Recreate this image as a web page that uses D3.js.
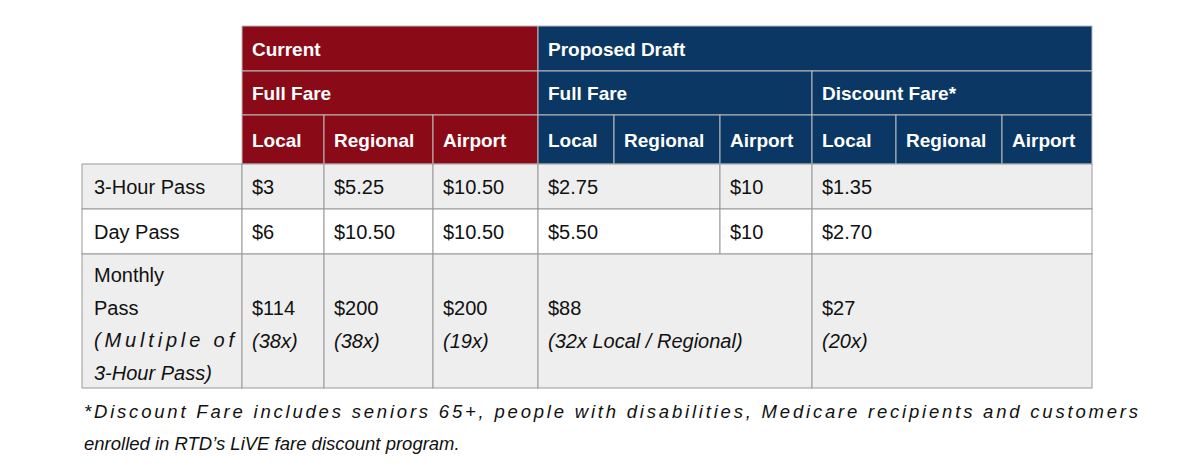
<!DOCTYPE html>
<meta charset="utf-8">
<style>
  body{margin:0;background:#fff;}
  text{font-family:"Liberation Sans",Arial,sans-serif;}
  .hd{fill:#fff;font-weight:bold;font-size:19px;}
  .cell{fill:#111;font-size:20px;}
  .it{font-style:italic;}
</style>
<body>
<script src="https://cdn.jsdelivr.net/npm/d3@7"></script>
<script>
  // header levels: [label, first column, span, group]
  var groups=[['Current',0,3,'cur'],['Proposed Draft',3,6,'prop']];
  var fareTypes=[['Full Fare',0,3,'cur'],['Full Fare',3,3,'prop'],['Discount Fare*',6,3,'prop']];
  var modes=['Local','Regional','Airport','Local','Regional','Airport','Local','Regional','Airport'];
  var rowLabels=[['3-Hour Pass'],['Day Pass'],['Monthly','Pass','(Multiple of','3-Hour Pass)']];
  // each row: [value lines, first column, span]
  var threeHour=[[['$3'],0,1],[['$5.25'],1,1],[['$10.50'],2,1],[['$2.75'],3,2],[['$10'],5,1],[['$1.35'],6,3]];
  var dayPass=[[['$6'],0,1],[['$10.50'],1,1],[['$10.50'],2,1],[['$5.50'],3,2],[['$10'],5,1],[['$2.70'],6,3]];
  var monthly=[[['$114','(38x)'],0,1],[['$200','(38x)'],1,1],[['$200','(19x)'],2,1],[['$88','(32x Local / Regional)'],3,3],[['$27','(20x)'],6,3]];
  var rows=[threeHour,dayPass,monthly];
  var footnote=['*Discount Fare includes seniors 65+, people with disabilities, Medicare recipients and customers',
                'enrolled in RTD\u2019s LiVE fare discount program.'];

  var colEdges=[242,324,433,538,614,720,812,896,1002,1092];
  var labelX=82;
  var hdrY=[26,71,115,164];
  var rowY=[164,209,254,388];
  var fills={cur:'#8a0b17',prop:'#0a3763'};
  var rowFill=['#eeeeee','#ffffff','#eeeeee'];

  var x=d3.scaleOrdinal().domain(d3.range(10)).range(colEdges);
  var svg=d3.select('body').append('svg').attr('width',1200).attr('height',475);

  function hdrLevel(data,level){
    var g=svg.append('g');
    g.selectAll('rect').data(data).join('rect')
      .attr('x',d=>x(d[1])).attr('y',hdrY[level])
      .attr('width',d=>x(d[1]+d[2])-x(d[1])).attr('height',hdrY[level+1]-hdrY[level])
      .attr('fill',d=>fills[d[3]]).attr('stroke','#bbb').attr('stroke-width',1);
    g.selectAll('text').data(data).join('text').attr('class','hd')
      .attr('x',d=>x(d[1])+10).attr('y',hdrY[level]+(hdrY[level+1]-hdrY[level])/2+7)
      .text(d=>d[0]);
  }
  hdrLevel(groups,0);
  hdrLevel(fareTypes,1);
  hdrLevel(modes.map((m,i)=>[m,i,1,i<3?'cur':'prop']),2);

  rows.forEach(function(r,ri){
    var y0=rowY[ri],h=rowY[ri+1]-y0,multi=rowLabels[ri].length>1;
    var g=svg.append('g');
    g.append('rect').attr('x',labelX).attr('y',y0).attr('width',colEdges[0]-labelX).attr('height',h)
      .attr('fill',rowFill[ri]).attr('stroke','#999');
    g.selectAll('text.lab').data(rowLabels[ri]).join('text').attr('class',(d,i)=>'cell lab'+(i>1?' it':''))
      .attr('x',labelX+12).attr('y',(d,i)=>multi?y0+28+i*32.7:y0+h/2+7)
      .attr('textLength',(d,i)=>i==2?140:null).attr('lengthAdjust','spacing')
      .text(d=>d);
    var c=g.selectAll('g.c').data(r).join('g').attr('class','c');
    c.append('rect').attr('x',d=>x(d[1])).attr('y',y0)
      .attr('width',d=>x(d[1]+d[2])-x(d[1])).attr('height',h)
      .attr('fill',rowFill[ri]).attr('stroke','#999');
    c.selectAll('text').data(d=>d[0].map(t=>[t,d[1]])).join('text')
      .attr('class',(d,i)=>'cell'+(i>0?' it':''))
      .attr('x',d=>x(d[1])+10)
      .attr('y',(d,i)=>multi?y0+61+i*32.7:y0+h/2+7)
      .text(d=>d[0]);
  });

  svg.append('g').selectAll('text').data(footnote).join('text').attr('class','cell it')
    .attr('x',d=>84).attr('y',(d,i)=>418+i*32).style('font-size','18.5px')
    .attr('textLength',(d,i)=>i==0?1054:null)
    .text(d=>d);
</script>
</body>
</html>
